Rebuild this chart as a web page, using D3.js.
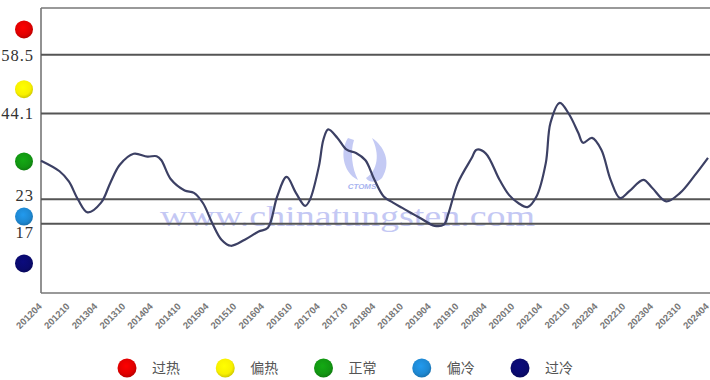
<!DOCTYPE html>
<html><head><meta charset="utf-8">
<script src="https://cdn.jsdelivr.net/npm/d3@7"></script>
<style>html,body{margin:0;padding:0;background:#fff;}svg{display:block;}</style>
</head><body>
<svg id="chart" width="710" height="380"></svg>
<script>
// ---- data ----
const months = ["2012-04","2012-08","2012-10","2012-12","2013-02","2013-05","2013-07","2013-09","2013-12","2014-03","2014-05","2014-06","2014-08","2014-11","2015-01","2015-03","2015-05","2015-07","2015-09","2015-12","2016-03","2016-05","2016-07","2016-09","2016-11","2017-01","2017-02","2017-04","2017-05","2017-06","2017-08","2017-10","2017-12","2018-02","2018-04","2018-06","2018-08","2018-10","2018-12","2019-02","2019-05","2019-07","2019-08","2019-10","2020-01","2020-02","2020-04","2020-07","2020-09","2020-11","2021-01","2021-03","2021-05","2021-06","2021-08","2021-10","2021-12","2022-01","2022-03","2022-05","2022-07","2022-09","2022-11","2023-02","2023-04","2023-07","2023-10","2024-01","2024-04"];
const values = [32.5,29.9,27.4,22.9,19.8,22.2,27.1,31.5,34.2,33.5,33.6,32.6,28.0,25.2,24.6,22.1,17.2,13.1,11.6,13.1,15.1,16.0,23.7,28.5,24.6,21.4,22.9,31.1,37.7,40.2,38.1,35.2,34.4,32.6,27.8,23.7,22.2,20.9,19.6,18.3,16.5,16.8,19.6,27.0,33.2,35.2,34.3,27.8,24.1,22.1,21.1,23.7,31.9,41.8,46.7,43.9,39.3,36.9,38.1,35.2,27.8,23.3,25.0,27.8,25.8,22.5,24.6,28.7,33.2];
const tickLabels = ["201204","201210","201304","201310","201404","201410","201504","201510","201604","201610","201704","201710","201804","201810","201904","201910","202004","202010","202104","202110","202204","202210","202304","202310","202404"];
const thresholds = [17, 23, 44.1, 58.5];
const thresholdLabels = ["17", "23", "44.1", "58.5"];
const levels = ["过热", "偏热", "正常", "偏冷", "过冷"];
const levelColors = ["#e00000", "#f8f000", "#129612", "#1e88d2", "#0a0a6e"];
const yMax = 70;

// ---- layout ----
const svg = d3.select("#chart");
const L = 41, R = 708, T = 8, B = 293;
const parse = d3.timeParse("%Y-%m");
const x = d3.scaleTime().domain([parse(months[0]), parse(months[months.length-1])]).range([L, R]);
const y = d3.scaleLinear().domain([0, yMax]).range([B, T]);

// gradients for glossy dots
const defs = svg.append("defs");
levelColors.forEach((c, i) => {
  const g = defs.append("radialGradient").attr("id", "g" + i).attr("cx", "45%").attr("cy", "40%").attr("r", "60%");
  g.append("stop").attr("offset", "0%").attr("stop-color", d3.color(c).brighter(0.35));
  g.append("stop").attr("offset", "70%").attr("stop-color", c);
  g.append("stop").attr("offset", "100%").attr("stop-color", d3.color(c).darker(0.5));
});

// watermark
svg.append("text").attr("x", 160).attr("y", 226)
  .attr("textLength", 375).attr("lengthAdjust", "spacingAndGlyphs")
  .style("font-family", "'Liberation Serif', serif").style("font-size", "30px")
  .style("fill", "#c4c8f4").text("www.chinatungsten.com");
svg.append("text").attr("x", 362).attr("y", 189).attr("text-anchor", "middle")
  .style("font-family", "'Liberation Sans', sans-serif").style("font-size", "8px")
  .style("font-weight", "bold").style("font-style", "italic")
  .style("fill", "#a8b4f0").text("CTOMS");
svg.append("path").attr("d", "M348,138 C340,150 342,172 358,180 C352,168 350,152 354,140 Z").style("fill", "#c4caf4");
svg.append("path").attr("d", "M372,138 C384,146 392,162 382,178 C376,184 368,182 366,178 C378,170 380,154 372,138 Z").style("fill", "#c4caf4");

// frame
svg.append("line").attr("x1", L).attr("x2", 710).attr("y1", T).attr("y2", T).style("stroke", "#777").style("stroke-width", 1.6);
svg.append("line").attr("x1", L).attr("x2", L).attr("y1", T).attr("y2", B).style("stroke", "#777").style("stroke-width", 1.6);
svg.append("line").attr("x1", L).attr("x2", 710).attr("y1", B).attr("y2", B).style("stroke", "#777").style("stroke-width", 1.6);

// threshold grid lines
svg.selectAll(".grid").data(thresholds).join("line")
  .attr("x1", L).attr("x2", 710).attr("y1", d => y(d)).attr("y2", d => y(d))
  .style("stroke", "#555").style("stroke-width", 2);

// threshold labels
const dyFor = d => d === 17 ? 14 : (d === 23 ? 2 : 6);
svg.selectAll(".tl").data(thresholds).join("text")
  .attr("x", 34).attr("y", d => y(d) + dyFor(d)).attr("text-anchor", "end")
  .style("font-family", "'Liberation Serif', serif").style("font-size", "16.5px")
  .style("fill", "#333").style("letter-spacing", "1px")
  .text((d, i) => thresholdLabels[i]);

// side markers (mid of each band)
const bands = [yMax, 58.5, 44.1, 23, 17, 0];
svg.selectAll(".sm").data(levels).join("circle")
  .attr("cx", 24).attr("cy", (d, i) => y((bands[i] + bands[i+1]) / 2) + (i === 0 ? -2 : 5))
  .attr("r", 9).attr("fill", (d, i) => "url(#g" + i + ")");

// x axis labels
const xAxis = d3.axisBottom(x).tickValues(tickLabels.map(s => d3.timeParse("%Y%m")(s)))
  .tickFormat(d3.timeFormat("%Y%m")).tickSize(0);
const ax = svg.append("g").attr("transform", `translate(0,${B})`).call(xAxis);
ax.select(".domain").remove();
ax.selectAll("text")
  .attr("text-anchor", "end").attr("dy", 0).attr("y", 0)
  .attr("transform", "translate(1,14) rotate(-45)")
  .style("font-family", "'Liberation Sans', Arial, sans-serif").style("font-size", "9.5px")
  .style("font-weight", "bold").style("fill", "#777");

// line
const line = d3.line().x((d, i) => x(parse(months[i]))).y(d => y(d)).curve(d3.curveCatmullRom.alpha(0.5));
svg.append("path").datum(values).attr("d", line)
  .style("fill", "none").style("stroke", "#3c4064").style("stroke-width", 2.2);

// legend
const lx = d3.scalePoint().domain(levels).range([127, 520]);
const lg = svg.selectAll(".lg").data(levels).join("g").attr("transform", d => `translate(${lx(d)},368)`);
lg.append("circle").attr("r", 9.5).attr("fill", (d, i) => "url(#g" + i + ")");
lg.append("text").attr("x", 25).attr("y", 5)
  .style("font-family", "'Noto Sans CJK SC', sans-serif").style("font-size", "14px")
  .style("fill", "#555").text(d => d);
</script>
</body></html>
